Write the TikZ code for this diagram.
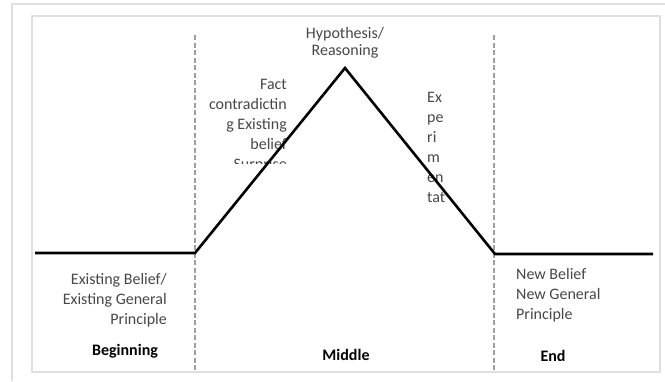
\documentclass[tikz,border=0pt]{standalone}
\usepackage{fontspec}
\setmainfont{Carlito}
\usetikzlibrary{positioning}
\tikzset{
  course/.style={line width=2.6pt, black, line join=miter},
  divider/.style={gray!75, line width=1.2pt, dash pattern=on 5pt off 2.5pt},
  frame/.style={draw=gray!25, line width=1.2pt},
  note/.style={font=\fontsize{16}{20}\selectfont, text=black!72, inner sep=0pt},
  stage/.style={font=\bfseries\fontsize{16}{20}\selectfont, inner sep=0pt}
}

\begin{document}
\begin{tikzpicture}[x=1pt,y=-1pt]
  \useasboundingbox (0,0) rectangle (665,381);
  % screenshot frame
  \draw[frame] (12,381) -- (12,4) -- (665,4);
  \draw[frame] (32,16) rectangle (660,372);
  % stage dividers
  \coordinate (divA top) at (195,35);
  \coordinate (divA bot) at (195,372);
  \coordinate (divB top) at (494,35);
  \coordinate (divB bot) at (494,372);
  \draw[divider] (divA top) -- (divA bot);
  \draw[divider] (divB top) -- (divB bot);
  % labels
  \node[note, anchor=north, align=center, font=\fontsize{16}{17}\selectfont] (hyp) at (345,27) {Hypothesis/\\Reasoning};
  \node[note, anchor=north east, align=right] (fact) at (287,79) {Fact\\contradictin\\g Existing\\belief};
  \begin{scope}
    \clip (200,150) rectangle (300,163);
    \node[note, anchor=north east] (surp) at (287,158) {Surprise};
  \end{scope}
  \node[note, anchor=north west, align=left] (exper) at (427,92) {Ex\\pe\\ri\\m\\en\\tat};
  \node[note, anchor=north east, align=right] (old) at (167,273) {Existing Belief/\\Existing General\\Principle};
  \node[note, anchor=north west, align=left] (new) at (516,268) {New Belief\\New General\\Principle};
  \node[stage] (begin) at (125,351) {Beginning};
  \node[stage] (mid) at (346,355) {Middle};
  \node[stage] (end) at (553,356) {End};
  % belief curve
  \coordinate (start) at (35,253);
  \coordinate (rise) at (195,253);
  \coordinate (peak) at (345,68);
  \coordinate (fall) at (495,254);
  \coordinate (stop) at (653,254);
  \draw[course] (start) -- (rise) -- (peak) -- (fall) -- (stop);
\end{tikzpicture}
\end{document}
